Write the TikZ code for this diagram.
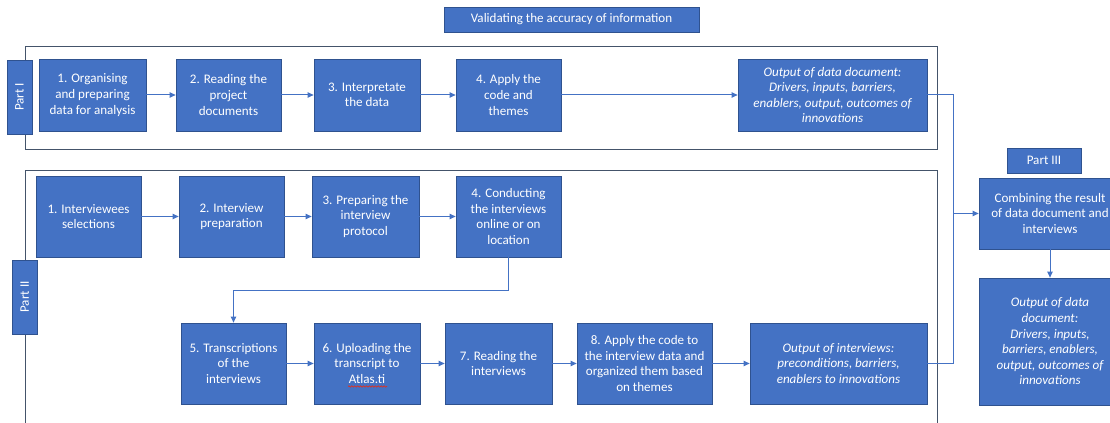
\documentclass[tikz,border=0pt]{standalone}
\usepackage{fontspec}
\setmainfont{Carlito}
\usetikzlibrary{arrows.meta,decorations.pathmorphing}
\definecolor{boxblue}{HTML}{4472C4}
\definecolor{boxedge}{HTML}{2F528F}
\definecolor{framecol}{HTML}{44546A}
\definecolor{linkcol}{HTML}{4472C4}
\definecolor{spellred}{HTML}{E0301E}
\begin{document}
\begin{tikzpicture}[x=0.75pt,y=-0.75pt,
  sz/.style 2 args={minimum width=#1*0.75pt, minimum height=#2*0.75pt},
  blk/.style={draw=boxedge, line width=0.5pt, fill=boxblue, text=white,
    align=center, inner sep=1pt, font=\fontsize{9.8}{11.7}\selectfont},
  outblk/.style={blk, font=\fontsize{9.8}{11.7}\selectfont\itshape},
  frame/.style={draw=framecol, line width=0.65pt},
  link/.style={draw=linkcol, line width=0.75pt},
  arr/.style={link, -{Triangle[length=4.5pt,width=4pt]}}]
\useasboundingbox (0,0) rectangle (1110,423);

% heading
\node[blk, sz={255}{25}] (valid) at (571.5,19.5) {Validating the accuracy of information};

% group frames
\draw[frame] (25,46) rectangle (937,149);
\draw[frame] (25,430) -- (25,170) -- (937,170) -- (937,430);

% Part I
\node[blk, rotate=90, sz={74}{25}] (partI) at (19.5,97) {Part I};
\node[blk, sz={107}{72}] (p1a) at (92.5,95) {1. Organising\\and preparing\\data for analysis};
\node[blk, sz={105}{72}] (p1b) at (228.5,95) {2. Reading the\\project\\documents};
\node[blk, sz={106}{72}] (p1c) at (367,95) {3. Interpretate\\the data};
\node[blk, sz={105}{72}] (p1d) at (508.5,95) {4. Apply the\\code and\\themes};
\node[outblk, sz={189}{72}] (p1o) at (832.5,95) {Output of data document:\\Drivers, inputs, barriers,\\enablers, output, outcomes of\\innovations};

% Part II
\node[blk, rotate=90, sz={74}{24.5}] (partII) at (24.75,297) {Part II};
\node[blk, sz={105}{81}] (q1) at (88.5,216.5) {1. Interviewees\\selections};
\node[blk, sz={105}{81}] (q2) at (231.5,216.5) {2. Interview\\preparation};
\node[blk, sz={107}{81}] (q3) at (365.5,216.5) {3. Preparing the\\interview\\protocol};
\node[blk, sz={105}{81}] (q4) at (508.5,216.5) {4. Conducting\\the interviews\\online or on\\location};
\node[blk, sz={105}{81}] (q5) at (233.5,363.5) {5. Transcriptions\\of the\\interviews};
\node[blk, sz={106}{81}] (q6) at (367,363.5) {6. Uploading the\\transcript to\\Atlas.ti};
\node[blk, sz={107}{81}] (q7) at (498.5,363.5) {7. Reading the\\interviews};
\node[blk, sz={135}{81}] (q8) at (644.5,363.5) {8. Apply the code to\\the interview data and\\organized them based\\on themes};
\node[outblk, sz={177}{81}] (qo) at (838.5,363.5) {Output of interviews:\\preconditions, barriers,\\enablers to innovations};
% spell-check squiggle under the software name
\draw[spellred, line width=0.5pt, decorate,
  decoration={snake, segment length=2.2pt, amplitude=0.5pt}] (348,386.5) -- (387,386.5);

% Part III
\node[blk, sz={74}{25}] (partIII) at (1044,160.5) {Part III};
\node[blk, sz={142}{71}] (comb) at (1050,213.5) {Combining the result\\of data document and\\interviews};
\node[outblk, sz={142}{127}] (out3) at (1050,341.5) {Output of data\\document:\\Drivers, inputs,\\barriers, enablers,\\output, outcomes of\\innovations};

% connectors, Part I
\draw[arr] (p1a.east) -- (p1b.west);
\draw[arr] (p1b.east) -- (p1c.west);
\draw[arr] (p1c.east) -- (p1d.west);
\draw[arr] (p1d.east) -- (p1o.west);

% connectors, Part II
\draw[arr] (q1.east) -- (q2.west);
\draw[arr] (q2.east) -- (q3.west);
\draw[arr] (q3.east) -- (q4.west);
\draw[arr] (q4.south) -- ++(0,33) -| (q5.north);
\draw[arr] (q5.east) -- (q6.west);
\draw[arr] (q6.east) -- (q7.west);
\draw[arr] (q7.east) -- (q8.west);
\draw[arr] (q8.east) -- (qo.west);

% both outputs join and feed Part III
\coordinate (jn) at (953,213.5);
\draw[link] (p1o.east) -| (jn);
\draw[link] (qo.east) -| (jn);
\draw[arr] (jn) -- (comb.west);
\draw[arr] (comb.south) -- (out3.north);
\end{tikzpicture}
\end{document}
